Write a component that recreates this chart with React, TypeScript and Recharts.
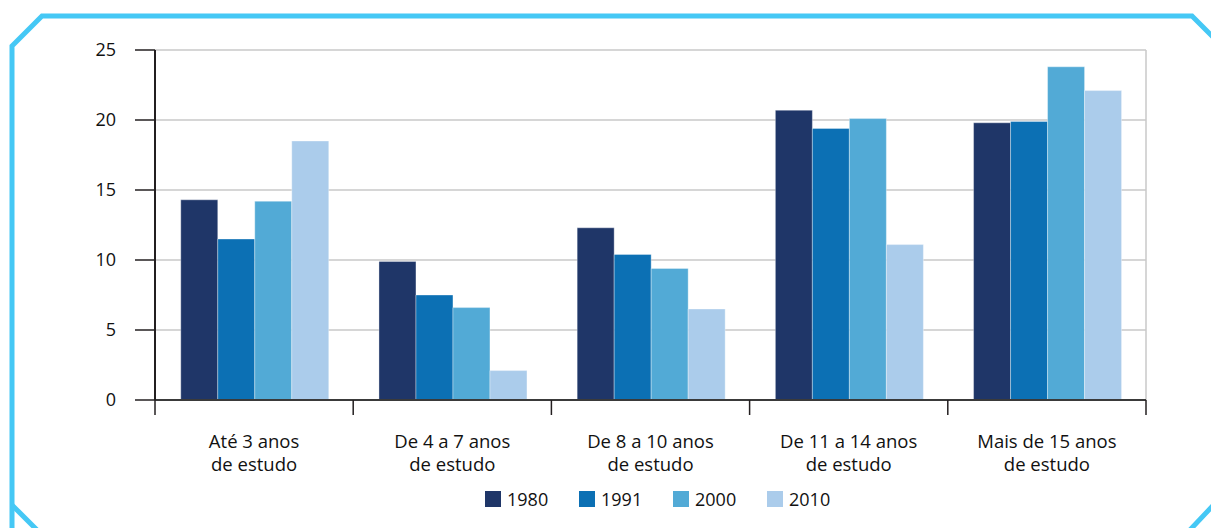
import { Bar, BarChart, CartesianGrid, XAxis, YAxis } from 'recharts'

const categories = [
  ['Até 3 anos', 'de estudo'],
  ['De 4 a 7 anos', 'de estudo'],
  ['De 8 a 10 anos', 'de estudo'],
  ['De 11 a 14 anos', 'de estudo'],
  ['Mais de 15 anos', 'de estudo'],
]
const years = ['1980', '1991', '2000', '2010']
const v1980 = [14.3, 9.9, 12.3, 20.7, 19.8]
const v1991 = [11.5, 7.5, 10.4, 19.4, 19.9]
const v2000 = [14.2, 6.6, 9.4, 20.1, 23.8]
const v2010 = [18.5, 2.1, 6.5, 11.1, 22.1]
const yTicks = [0, 5, 10, 15, 20, 25]

const colors = ['#1f3668', '#0c70b4', '#52aad6', '#abcceb']
const seriesValues = [v1980, v1991, v2000, v2010]

const data = categories.map((lines, i) => {
  const row: any = { name: lines.join(' '), lines }
  years.forEach((y, s) => {
    row[y] = seriesValues[s][i]
  })
  return row
})

const W = 1211
const H = 528
const LEFT = 155
const RIGHT = 1146
const BAND = (RIGHT - LEFT) / categories.length
const FONT = '"Open Sans", "Noto Sans", sans-serif'
const TEXT = '#111'

const CategoryTick = ({ x, y, payload, index }: any) => {
  const lines = data[index]?.lines || [payload.value]
  return (
    <g>
      <line x1={x - BAND / 2} x2={x - BAND / 2} y1={y} y2={y + 15} stroke="#231f20" strokeWidth={1.5} />
      {index === categories.length - 1 && (
        <line x1={x + BAND / 2} x2={x + BAND / 2} y1={y} y2={y + 15} stroke="#231f20" strokeWidth={1.5} />
      )}
      <text x={x} y={y + 48} textAnchor="middle" fontSize={18.5} fill={TEXT} fontFamily={FONT}>
        {lines[0]}
      </text>
      <text x={x} y={y + 71} textAnchor="middle" fontSize={18.5} fill={TEXT} fontFamily={FONT}>
        {lines[1]}
      </text>
    </g>
  )
}

const Frame = () => (
  <svg width={W} height={H} style={{ position: 'absolute', left: 0, top: 0 }}>
    <path
      d="M 12 540 L 12 505 L 12 46 L 42 16 L 1192 16 L 1224 48 L 1224 494 L 1188 532"
      fill="none"
      stroke="#45c8f5"
      strokeWidth={5}
    />
    <path d="M 12 505 L 37 530" fill="none" stroke="#45c8f5" strokeWidth={5} />
  </svg>
)

export default function App() {
  return (
    <div style={{ position: 'absolute', left: 0, top: 0, width: W, height: H, background: '#fff', overflow: 'hidden' }}>
      <Frame />
      <div style={{ position: 'absolute', left: 0, top: 0 }}>
        <BarChart
          width={W}
          height={H}
          data={data}
          margin={{ top: 50, right: W - RIGHT, left: LEFT - 60, bottom: 48 }}
          barCategoryGap="13%"
          barGap={0}
        >
          <CartesianGrid vertical={true} verticalPoints={[RIGHT]} stroke="#c8c8c8" strokeWidth={1.5} />
          <XAxis
            dataKey="name"
            height={80}
            tickLine={false}
            tickSize={0}
            tickMargin={0}
            axisLine={{ stroke: '#3a3a3a', strokeWidth: 2 }}
            tick={<CategoryTick />}
            interval={0}
          />
          <YAxis
            width={60}
            domain={[0, 25]}
            ticks={yTicks}
            tickSize={20}
            tickMargin={19}
            axisLine={{ stroke: '#231f20', strokeWidth: 2 }}
            tickLine={{ stroke: '#231f20', strokeWidth: 1.5 }}
            tick={{ fontSize: 18, fill: TEXT, fontFamily: FONT }}
          />
          {years.map((y, s) => (
            <Bar
              key={y}
              dataKey={y}
              fill={colors[s]}
              stroke="rgba(255,255,255,0.35)"
              strokeWidth={1}
              isAnimationActive={false}
            />
          ))}
        </BarChart>
      </div>
      <div
        style={{
          position: 'absolute',
          left: 485,
          top: 487,
          display: 'flex',
          fontFamily: FONT,
          fontSize: 18,
          color: TEXT,
        }}
      >
        {years.map((y, s) => (
          <div key={y} style={{ display: 'flex', alignItems: 'center', width: 94 }}>
            <span style={{ width: 16, height: 16, background: colors[s], display: 'inline-block', marginRight: 6 }} />
            <span>{y}</span>
          </div>
        ))}
      </div>
    </div>
  )
}
